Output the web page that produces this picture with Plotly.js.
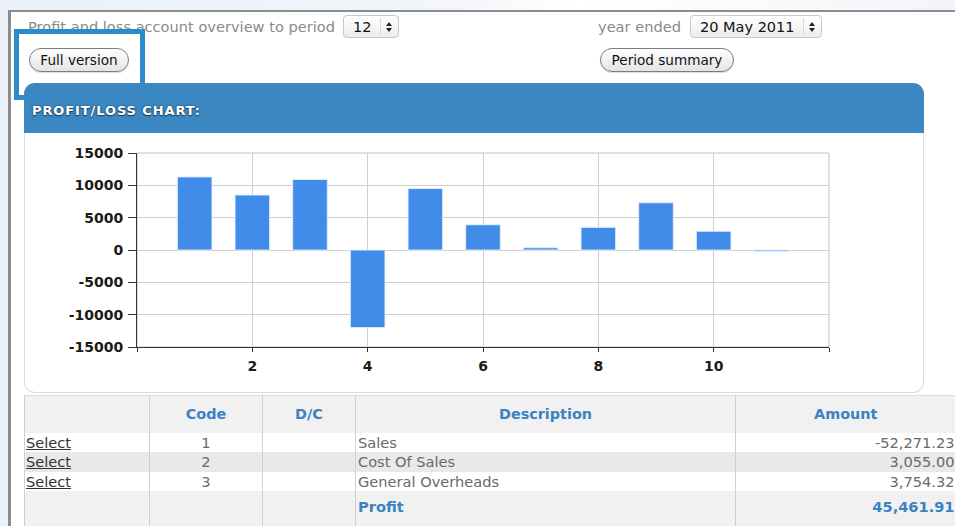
<!DOCTYPE html>
<html>
<head>
<meta charset="utf-8">
<script src="https://cdn.plot.ly/plotly-3.0.1.min.js"></script>
<style>
  html, body { margin:0; padding:0; width:955px; height:526px; overflow:hidden; }
  body { background: linear-gradient(100deg, #e9f0f8 0%, #f3f7fb 45%, #ffffff 55%, #eef3f9 100%); font-family: "DejaVu Sans", Verdana, sans-serif; position:relative; }
  #page { position:absolute; left:8px; top:10px; width:960px; height:530px; background:#fff; border-left:3px solid #8c8c8c; border-top:2px solid #8c8c8c; }
  .abs { position:absolute; }
  .lbl { color:#8a8a8a; font-size:14.6px; white-space:nowrap; }
  .sel { border:1px solid #c8c8c8; border-radius:4px; background:linear-gradient(#ffffff,#ececec); box-sizing:border-box; height:23px; }
  .sel .txt { position:absolute; left:9px; top:1px; font-size:14.5px; line-height:20px; color:#111; white-space:nowrap; }
  .sel .arr { position:absolute; right:0; top:2px; bottom:2px; width:18px; border-left:1px solid #d8d8d8; box-sizing:border-box; }
  .sel .up { position:absolute; left:5px; top:4px; width:0; height:0; border-left:3px solid transparent; border-right:3px solid transparent; border-bottom:4px solid #222; }
  .sel .dn { position:absolute; left:5px; top:10px; width:0; height:0; border-left:3px solid transparent; border-right:3px solid transparent; border-top:4px solid #222; }
  .btn { border:1px solid #7d7d7d; border-radius:12px; background:linear-gradient(#ffffff,#e4e4e4); font-size:13.6px; color:#111; box-sizing:border-box; height:24px; line-height:22px; text-align:center; white-space:nowrap; box-shadow:0 1px 1px rgba(0,0,0,0.15); }
  #hl { position:absolute; left:14px; top:29px; width:131px; height:71px; border:5px solid #2a8bcd; box-sizing:border-box; }
  #panelHead { position:absolute; left:24px; top:83px; width:900px; height:50px; background:#3a87c1; border-radius:11px 11px 0 0; }
  #panelHead span { position:absolute; left:8px; top:20px; color:#fff; font-weight:bold; font-size:13px; text-shadow:0 1px 1px #1d3c55, 0 0 2px #1d3c55; letter-spacing:0.9px; }
  #panelBody { position:absolute; left:24px; top:133px; width:900px; height:260px; background:#fff; border:1px solid #dcdcdc; border-top:none; border-radius:0 0 11px 11px; box-sizing:border-box; }
  #chart { position:absolute; left:24px; top:134px; width:899px; height:258px; }
  table { position:absolute; left:24px; top:395px; border-collapse:collapse; table-layout:fixed; width:931px; font-size:14.6px; color:#6a6a6a; }
  td, th { padding:0 2px; white-space:nowrap; overflow:hidden; border-left:1px solid #d0d0d0; border-right:1px solid #d0d0d0; }
  td:last-child, th:last-child { border-right:none; }
  td:first-child { padding-left:1px; }
  thead tr { background:#f1f1f1; height:37px; border-top:1px solid #dadada; }
  th { color:#3a82c2; font-weight:bold; font-size:14.4px; text-align:center; }
  tbody tr { height:19.5px; }
  tbody tr.odd { background:#ffffff; }
  tbody tr.even { background:#e9e9e9; }
  tbody tr.tot { background:#f1f1f1; height:40px; }
  tbody tr.tot td { vertical-align:top; padding-top:7px; }
  td.sel1 a { color:#333; text-decoration:underline; }
  td.c { text-align:center; }
  td.r { text-align:right; padding-right:1px; }
  td.b { color:#3a82c2; font-weight:bold; }
</style>
</head>
<body>
<div id="page"></div>

<div class="abs lbl" style="left:28px;top:18px;">Profit and loss account overview to period</div>
<div class="abs sel" style="left:343px;top:15px;width:56px;"><span class="txt">12</span><div class="arr"><div class="up"></div><div class="dn"></div></div></div>
<div class="abs lbl" style="left:598px;top:18px;">year ended</div>
<div class="abs sel" style="left:690px;top:15px;width:132px;"><span class="txt">20 May 2011</span><div class="arr"><div class="up"></div><div class="dn"></div></div></div>

<div class="abs btn" style="left:29px;top:48px;width:100px;">Full version</div>
<div class="abs btn" style="left:600px;top:48px;width:134px;">Period summary</div>
<div id="hl"></div>

<div id="panelHead"><span>PROFIT/LOSS CHART:</span></div>
<div id="panelBody"></div>
<div id="chart"></div>

<table id="tbl">
  <colgroup><col style="width:125px"><col style="width:113px"><col style="width:93px"><col style="width:380px"><col style="width:220px"></colgroup>
  <thead><tr id="thr"></tr></thead>
  <tbody id="tb"></tbody>
</table>

<script>
// ---- chart data ----
var periods = [1, 2, 3, 4, 5, 6, 7, 8, 9, 10, 11];
var profits = [11300, 8500, 10900, -12000, 9500, 3900, 350, 3500, 7300, 2900, -200];
var yTickVals = [-15000, -10000, -5000, 0, 5000, 10000, 15000];
var yTickText = ["-15000", "-10000", "-5000", "0", "5000", "10000", "15000"];
var xTickVals = [0, 2, 4, 6, 8, 10, 12];
var xTickText = ["", "2", "4", "6", "8", "10", ""];

// ---- table data ----
var headers = ["", "Code", "D/C", "Description", "Amount"];
var codes = ["1", "2", "3"];
var descriptions = ["Sales", "Cost Of Sales", "General Overheads"];
var amounts = ["-52,271.23", "3,055.00", "3,754.32"];
var totalLabel = "Profit";
var totalAmount = "45,461.91";

// build table
var thr = document.getElementById('thr');
headers.forEach(function(h){ var th = document.createElement('th'); th.textContent = h; thr.appendChild(th); });
var tb = document.getElementById('tb');
codes.forEach(function(c, i){
  var tr = document.createElement('tr');
  tr.className = (i % 2 === 0) ? 'odd' : 'even';
  tr.innerHTML = '<td class="sel1"><a>Select</a></td><td class="c">' + c + '</td><td></td><td>' + descriptions[i] + '</td><td class="r">' + amounts[i] + '</td>';
  tb.appendChild(tr);
});
var trt = document.createElement('tr');
trt.className = 'tot';
trt.innerHTML = '<td></td><td></td><td></td><td class="b">' + totalLabel + '</td><td class="r b">' + totalAmount + '</td>';
tb.appendChild(trt);

// chart
var tickFont = {family: '"DejaVu Sans", Verdana, sans-serif', size: 14, color: '#1a1a1a', weight: 'bold'};
Plotly.newPlot('chart', [{
  type: 'bar',
  x: periods,
  y: profits,
  width: 0.6,
  marker: {color: '#418be9', line: {color: 'rgba(230,240,255,0.9)', width: 1}},
  hoverinfo: 'none'
}], {
  width: 899, height: 258,
  margin: {l: 113, r: 94, t: 19, b: 45, pad: 0},
  paper_bgcolor: 'rgba(0,0,0,0)',
  plot_bgcolor: '#ffffff',
  showlegend: false,
  xaxis: {
    range: [0, 12], tickmode: 'array', tickvals: xTickVals, ticktext: xTickText,
    showgrid: true, gridcolor: '#cfcfcf', gridwidth: 1,
    showline: true, linecolor: '#333', linewidth: 1,
    ticks: 'outside', ticklen: 4, tickcolor: '#333', tickwidth: 1,
    tickfont: tickFont, zeroline: false, fixedrange: true, ticklabelstandoff: 2
  },
  yaxis: {
    range: [-15000, 15000], tickmode: 'array', tickvals: yTickVals, ticktext: yTickText,
    showgrid: true, gridcolor: '#cfcfcf', gridwidth: 1,
    showline: true, linecolor: '#333', linewidth: 1,
    ticks: 'outside', ticklen: 8, tickcolor: '#333', tickwidth: 1,
    tickfont: tickFont, zeroline: false, fixedrange: true, ticklabelstandoff: 2
  },
  shapes: [{type: 'rect', xref: 'paper', yref: 'paper', x0: 0, x1: 1, y0: 0, y1: 1, line: {color: '#c4c4c4', width: 1}, layer: 'below'}]
}, {displayModeBar: false, staticPlot: true});
</script>
</body>
</html>
